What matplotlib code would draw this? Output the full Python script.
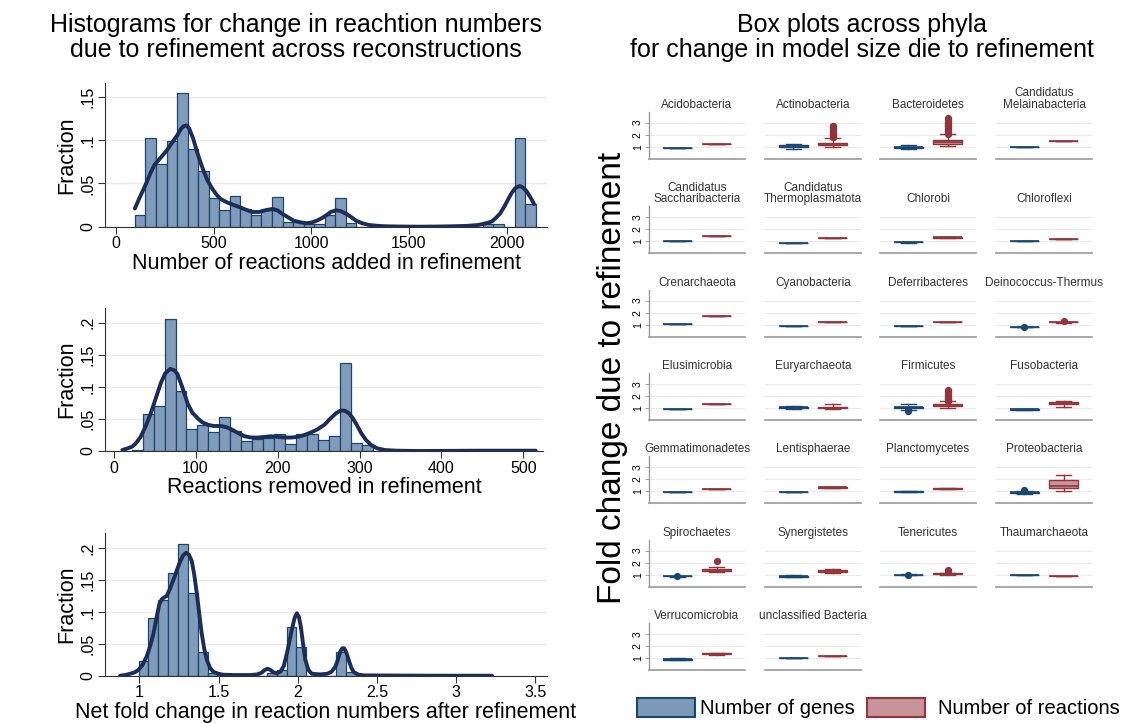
import numpy as np
import matplotlib
matplotlib.use("Agg")
import matplotlib.pyplot as plt
from matplotlib.patches import Rectangle

plt.rcParams["font.family"] = ["Liberation Sans", "DejaVu Sans"]

W, H = 1128, 723

# ---- histogram data -------------------------------------------------------
added_start, added_width = 97, 54
added_frac = [0.013, 0.103, 0.073, 0.099, 0.154, 0.090, 0.064, 0.033, 0.019, 0.036,
              0.020, 0.013, 0.019, 0.034, 0.006, 0.006, 0.003, 0.003, 0.013, 0.033,
              0.004, 0.0, 0.0, 0.0, 0.0, 0.0, 0.0, 0.0, 0.0, 0.0,
              0.0, 0.0, 0.0, 0.003, 0.003, 0.0, 0.103, 0.026]
added_kde_x = [97, 120, 153, 175, 196, 230, 260, 290, 315, 330, 345, 360, 374, 395, 416,
               435, 451, 470, 493, 515, 536, 570, 604, 640, 672, 700, 732, 765, 800, 826,
               851, 880, 910, 945, 978, 1005, 1029, 1055, 1076, 1100, 1127, 1150, 1178,
               1205, 1229, 1260, 1296, 1340, 1381, 1450, 1551, 1650, 1720, 1800, 1856,
               1895, 1924, 1945, 1966, 1988, 2009, 2026, 2043, 2056, 2068, 2085, 2102,
               2122, 2141]
added_kde_y = [0.021, 0.033, 0.049, 0.061, 0.071, 0.080, 0.088, 0.098, 0.106, 0.112,
               0.116, 0.117, 0.114, 0.102, 0.086, 0.073, 0.063, 0.053, 0.044, 0.037,
               0.032, 0.028, 0.025, 0.022, 0.019, 0.017, 0.017, 0.019, 0.0205, 0.019,
               0.015, 0.011, 0.007, 0.005, 0.004, 0.005, 0.007, 0.010, 0.013, 0.017,
               0.019, 0.018, 0.015, 0.011, 0.007, 0.004, 0.002, 0.001, 0.0005, 0.0002,
               0.0, 0.0002, 0.0005, 0.001, 0.002, 0.004, 0.006, 0.010, 0.015, 0.023,
               0.032, 0.039, 0.044, 0.046, 0.047, 0.045, 0.041, 0.034, 0.026]

removed_start, removed_width = 22, 13.4
removed_frac = [0.002, 0.058, 0.070, 0.206, 0.094, 0.034, 0.040, 0.029, 0.053, 0.031,
                0.015, 0.018, 0.021, 0.026, 0.011, 0.026, 0.026, 0.017, 0.024, 0.137,
                0.013, 0.009]
removed_kde_x = [10.8, 17, 23, 28, 33, 39, 45.5, 52, 57.7, 63, 69, 74, 78, 84, 90.4, 96,
                 102.6, 108, 114.8, 122, 131, 138, 145, 152, 159.6, 168, 175.9, 184, 192,
                 200, 208.5, 216, 224.8, 233, 241, 249, 257.3, 264, 271.5, 277, 281.7,
                 287, 291.9, 297, 302, 308, 314.4, 322, 330.7, 345, 371.3, 450, 515]
removed_kde_y = [0.0016, 0.004, 0.007, 0.013, 0.022, 0.038, 0.059, 0.084, 0.106, 0.121,
                 0.128, 0.126, 0.120, 0.099, 0.074, 0.060, 0.051, 0.045, 0.041, 0.039,
                 0.039, 0.037, 0.033, 0.028, 0.023, 0.021, 0.021, 0.022, 0.023, 0.022,
                 0.021, 0.021, 0.022, 0.025, 0.029, 0.034, 0.041, 0.050, 0.059, 0.063,
                 0.063, 0.059, 0.051, 0.040, 0.028, 0.017, 0.009, 0.004, 0.0016, 0.0005,
                 0.0, 0.0005, 0.0005]

fold_start, fold_width = 0.995, 0.0623
fold_frac = [0.023, 0.090, 0.119, 0.161, 0.207, 0.130, 0.037, 0.005, 0.0, 0.0,
             0.0, 0.0, 0.0, 0.005, 0.009, 0.077, 0.045, 0.0, 0.0, 0.0,
             0.037, 0.006]
fold_kde_x = [0.878, 0.91, 0.941, 0.968, 0.994, 1.02, 1.046, 1.068, 1.089, 1.110, 1.126,
              1.141, 1.157, 1.173, 1.194, 1.215, 1.236, 1.257, 1.277, 1.295, 1.313,
              1.331, 1.347, 1.363, 1.379, 1.394, 1.41, 1.426, 1.447, 1.468, 1.50,
              1.531, 1.6, 1.700, 1.745, 1.774, 1.792, 1.810, 1.829, 1.848, 1.868,
              1.890, 1.912, 1.932, 1.948, 1.963, 1.98, 1.995, 2.008, 2.020, 2.034,
              2.048, 2.068, 2.090, 2.14, 2.185, 2.213, 2.238, 2.254, 2.269, 2.282,
              2.294, 2.308, 2.322, 2.338, 2.353, 2.38, 2.416, 2.8, 3.228]
fold_kde_y = [0.0, 0.001, 0.003, 0.005, 0.009, 0.017, 0.030, 0.046, 0.066, 0.093, 0.112,
              0.120, 0.123, 0.125, 0.137, 0.150, 0.165, 0.179, 0.189, 0.193, 0.190,
              0.180, 0.158, 0.129, 0.096, 0.066, 0.042, 0.025, 0.012, 0.006, 0.003,
              0.0015, 0.001, 0.001, 0.002, 0.005, 0.009, 0.011, 0.009, 0.005, 0.004,
              0.006, 0.015, 0.035, 0.054, 0.072, 0.090, 0.098, 0.092, 0.077, 0.050,
              0.025, 0.009, 0.003, 0.002, 0.003, 0.006, 0.014, 0.025, 0.038, 0.043,
              0.043, 0.036, 0.025, 0.013, 0.006, 0.002, 0.0005, 0.0, 0.0]

# ---- box plot data (fold change per phylum) -------------------------------
phyla = ["Acidobacteria", "Actinobacteria", "Bacteroidetes", "Candidatus\nMelainabacteria",
         "Candidatus\nSaccharibacteria", "Candidatus\nThermoplasmatota", "Chlorobi", "Chloroflexi",
         "Crenarchaeota", "Cyanobacteria", "Deferribacteres", "Deinococcus-Thermus",
         "Elusimicrobia", "Euryarchaeota", "Firmicutes", "Fusobacteria",
         "Gemmatimonadetes", "Lentisphaerae", "Planctomycetes", "Proteobacteria",
         "Spirochaetes", "Synergistetes", "Tenericutes", "Thaumarchaeota",
         "Verrucomicrobia", "unclassified Bacteria"]

gene_med = [0.86, 1.04, 0.93, 0.93, 1.00, 0.84, 0.93, 1.01, 1.08, 0.86, 0.92, 0.80, 0.92,
            1.04, 1.05, 0.88, 0.92, 0.94, 0.97, 0.90, 0.87, 0.86, 1.00, 1.00, 0.90, 1.00]
gene_q1 = [0.86, 0.98, 0.88, 0.93, 1.00, 0.84, 0.90, 1.01, 1.08, 0.86, 0.92, 0.79, 0.92,
           0.98, 0.98, 0.84, 0.92, 0.92, 0.94, 0.86, 0.85, 0.84, 0.99, 1.00, 0.86, 1.00]
gene_q3 = [0.86, 1.12, 0.98, 0.93, 1.00, 0.84, 0.96, 1.01, 1.08, 0.86, 0.92, 0.81, 0.92,
           1.10, 1.12, 0.92, 0.92, 0.96, 1.00, 0.96, 0.89, 0.88, 1.01, 1.00, 0.94, 1.00]
gene_lo = [0.86, 0.84, 0.80, 0.93, 1.00, 0.84, 0.89, 1.01, 1.08, 0.86, 0.92, 0.78, 0.92,
           0.92, 0.87, 0.82, 0.92, 0.91, 0.93, 0.76, 0.84, 0.82, 0.98, 1.00, 0.84, 1.00]
gene_hi = [0.86, 1.25, 1.10, 0.93, 1.00, 0.84, 0.97, 1.01, 1.08, 0.86, 0.92, 0.82, 0.92,
           1.14, 1.30, 0.94, 0.92, 0.97, 1.01, 1.04, 0.90, 0.98, 1.02, 1.00, 0.96, 1.00]
gene_out = [[], [], [], [], [], [], [], [], [], [], [], [0.84], [],
            [], [0.80, 0.74], [], [], [], [], [1.12], [0.92], [], [1.00], [], [], []]

rxn_med = [1.22, 1.22, 1.38, 1.44, 1.46, 1.24, 1.32, 1.19, 1.75, 1.19, 1.25, 1.19, 1.33,
           1.02, 1.22, 1.42, 1.19, 1.33, 1.22, 1.45, 1.38, 1.32, 1.07, 0.87, 1.36, 1.13]
rxn_q1 = [1.22, 1.12, 1.24, 1.44, 1.46, 1.24, 1.29, 1.19, 1.75, 1.19, 1.25, 1.18, 1.33,
          0.96, 1.15, 1.36, 1.19, 1.31, 1.19, 1.30, 1.30, 1.24, 1.04, 0.87, 1.30, 1.13]
rxn_q3 = [1.22, 1.33, 1.55, 1.44, 1.46, 1.24, 1.35, 1.19, 1.75, 1.19, 1.25, 1.20, 1.33,
          1.12, 1.30, 1.48, 1.19, 1.35, 1.25, 1.95, 1.48, 1.42, 1.11, 0.87, 1.42, 1.13]
rxn_lo = [1.22, 0.95, 1.06, 1.44, 1.46, 1.24, 1.28, 1.19, 1.75, 1.19, 1.25, 1.17, 1.33,
          0.90, 1.00, 1.12, 1.19, 1.30, 1.18, 1.02, 1.24, 1.13, 1.00, 0.87, 1.27, 1.13]
rxn_hi = [1.22, 1.70, 2.02, 1.44, 1.46, 1.24, 1.36, 1.19, 1.75, 1.19, 1.25, 1.21, 1.33,
          1.30, 1.55, 1.56, 1.19, 1.36, 1.26, 2.36, 1.60, 1.45, 1.15, 0.87, 1.45, 1.13]
rxn_out = [[],
           [1.76, 1.82, 1.88, 1.95, 2.02, 2.08, 2.15, 2.22, 2.30, 2.38, 2.45, 2.52, 2.60, 2.68, 2.72],
           [2.08, 2.15, 2.22, 2.30, 2.38, 2.45, 2.52, 2.60, 2.68, 2.75, 2.82, 2.90, 2.98, 3.05,
            3.12, 3.20, 3.28, 3.35],
           [], [], [], [], [], [], [], [], [1.29], [],
           [], [1.60, 1.66, 1.72, 1.78, 1.85, 1.92, 2.00, 2.08, 2.16, 2.25, 2.33, 2.42, 2.48],
           [], [], [], [], [], [2.15], [], [1.27, 1.42], [], [], []]

# ---- colours --------------------------------------------------------------
BAR_FILL = "#809cba"
NAVY = "#1a476f"
KDE_COLOR = "#1c2d58"
GENE_FILL = "#7d99b7"
RXN_FILL = "#c8949a"
MAROON = "#90353b"
GRID = "#eaeaea"


def px_axes(fig, left, top, right, bottom):
    return fig.add_axes([left / W, 1 - bottom / H, (right - left) / W, (bottom - top) / H])


def draw_hist(ax, start, width, frac, kde_x, kde_y, xlim, ylim, xticks, yticks,
              yticklabels, xlabel):
    edges = start + width * np.arange(len(frac))
    ax.bar(edges, frac, width=width, align="edge", color=BAR_FILL,
           edgecolor=NAVY, linewidth=0.9, zorder=2)
    ax.plot(kde_x, kde_y, color=KDE_COLOR, linewidth=2.8,
            solid_joinstyle="round", solid_capstyle="round", zorder=3)
    ax.set_xlim(*xlim)
    ax.set_ylim(*ylim)
    ax.set_xticks(xticks)
    ax.set_xticklabels([f"{t:g}" for t in xticks], fontsize=11.5)
    ax.set_yticks(yticks)
    ax.set_yticklabels(yticklabels, fontsize=11.5, rotation=90, va="center")
    ax.grid(axis="y", color=GRID, linewidth=1.0, zorder=0)
    ax.set_axisbelow(True)
    for side in ("top", "right"):
        ax.spines[side].set_visible(False)
    for side in ("left", "bottom"):
        ax.spines[side].set_color("#333333")
        ax.spines[side].set_linewidth(0.8)
    ax.tick_params(length=5, width=0.8, color="#333333", pad=2)
    ax.set_xlabel(xlabel, fontsize=15.5, labelpad=1)
    ax.set_ylabel("Fraction", fontsize=15.5, labelpad=2)


fig = plt.figure(figsize=(W / 100, H / 100), dpi=100)
fig.patch.set_facecolor("white")

fig.text(296 / W, 1 - 25 / H, "Histograms for change in reachtion numbers",
         ha="center", va="center", fontsize=18)
fig.text(296 / W, 1 - 50 / H, "due to refinement across reconstructions",
         ha="center", va="center", fontsize=18)

ax1 = px_axes(fig, 105, 83, 547, 226.7)
draw_hist(ax1, added_start, added_width, added_frac, added_kde_x, added_kde_y,
          (-56, 2207), (0, 0.166), [0, 500, 1000, 1500, 2000],
          [0, 0.05, 0.1, 0.15], ["0", ".05", ".1", ".15"],
          "Number of reactions added in refinement")

ax2 = px_axes(fig, 105, 308, 543, 451)
draw_hist(ax2, removed_start, removed_width, removed_frac, removed_kde_x, removed_kde_y,
          (-10.4, 523.8), (0, 0.223), [0, 100, 200, 300, 400, 500],
          [0, 0.05, 0.1, 0.15, 0.2], ["0", ".05", ".1", ".15", ".2"],
          "Reactions removed in refinement")

ax3 = px_axes(fig, 105, 533, 547, 675.7)
draw_hist(ax3, fold_start, fold_width, fold_frac, fold_kde_x, fold_kde_y,
          (0.783, 3.575), (0, 0.224), [1, 1.5, 2, 2.5, 3, 3.5],
          [0, 0.05, 0.1, 0.15, 0.2], ["0", ".05", ".1", ".15", ".2"],
          "Net fold change in reaction numbers after refinement")

# ---- right half: box plots by phylum --------------------------------------
fig.text(862 / W, 1 - 25 / H, "Box plots across phyla", ha="center", va="center", fontsize=18)
fig.text(862 / W, 1 - 50 / H, "for change in model size die to refinement",
         ha="center", va="center", fontsize=18)
fig.text(612 / W, 1 - 378 / H, "Fold change due to refinement", rotation=90,
         ha="center", va="center", fontsize=24)

col_left = [649, 765, 880, 996]
row_bottom = [158.7, 253.3, 336.7, 420, 503.3, 586.7, 670]
cell_w, cell_h = 96, 47


def box_style(edge, fill):
    return dict(
        boxprops=dict(facecolor=fill, edgecolor=edge, linewidth=1.0),
        medianprops=dict(color=edge, linewidth=1.2),
        whiskerprops=dict(color=edge, linewidth=1.0),
        capprops=dict(color=edge, linewidth=1.0),
        flierprops=dict(marker="o", markerfacecolor=edge, markeredgecolor=edge,
                        markersize=4.2, linestyle="none"),
    )


for i, name in enumerate(phyla):
    r, c = divmod(i, 4)
    left = col_left[c]
    bottom = row_bottom[r]
    ax = px_axes(fig, left, bottom - cell_h, left + cell_w, bottom)

    gene_stats = [dict(med=gene_med[i], q1=gene_q1[i], q3=gene_q3[i],
                       whislo=gene_lo[i], whishi=gene_hi[i], fliers=gene_out[i])]
    rxn_stats = [dict(med=rxn_med[i], q1=rxn_q1[i], q3=rxn_q3[i],
                      whislo=rxn_lo[i], whishi=rxn_hi[i], fliers=rxn_out[i])]
    ax.bxp(gene_stats, positions=[1], widths=0.72, patch_artist=True,
           capwidths=0.36, manage_ticks=False, **box_style(NAVY, GENE_FILL))
    ax.bxp(rxn_stats, positions=[2], widths=0.72, patch_artist=True,
           capwidths=0.36, manage_ticks=False, **box_style(MAROON, RXN_FILL))

    ax.set_xlim(0.27, 2.73)
    ax.set_ylim(0, 3.9)
    ax.set_xticks([])
    ax.set_yticks([1, 2, 3])
    ax.grid(axis="y", color=GRID, linewidth=0.8)
    ax.set_axisbelow(True)
    for side in ("top", "right"):
        ax.spines[side].set_visible(False)
    ax.spines["bottom"].set_color("#9a9a9a")
    ax.spines["bottom"].set_linewidth(1.2)
    if c == 0:
        ax.spines["left"].set_color("#9a9a9a")
        ax.spines["left"].set_linewidth(1.0)
        ax.set_yticklabels(["1", "2", "3"], fontsize=7.5, rotation=90, va="center")
        ax.tick_params(axis="y", length=3, width=0.6, color="#9a9a9a", pad=1.5)
    else:
        ax.spines["left"].set_visible(False)
        ax.tick_params(axis="y", length=0, labelleft=False)
    ax.set_title(name, fontsize=8.5, color="#333333", pad=3, linespacing=0.9)

# legend
legend_items = [(636.7, "Number of genes", NAVY, GENE_FILL, 700),
                (866.7, "Number of reactions", MAROON, RXN_FILL, 938)]
for x0, label, edge, fill, tx in legend_items:
    fig.add_artist(Rectangle((x0 / W, 1 - 716.7 / H), 58 / W, 18.7 / H,
                             transform=fig.transFigure, facecolor=fill,
                             edgecolor=edge, linewidth=1.5))
    fig.text(tx / W, 1 - 708 / H, label, ha="left", va="center", fontsize=14.5)

fig.savefig("out.png", dpi=100, facecolor="white")
